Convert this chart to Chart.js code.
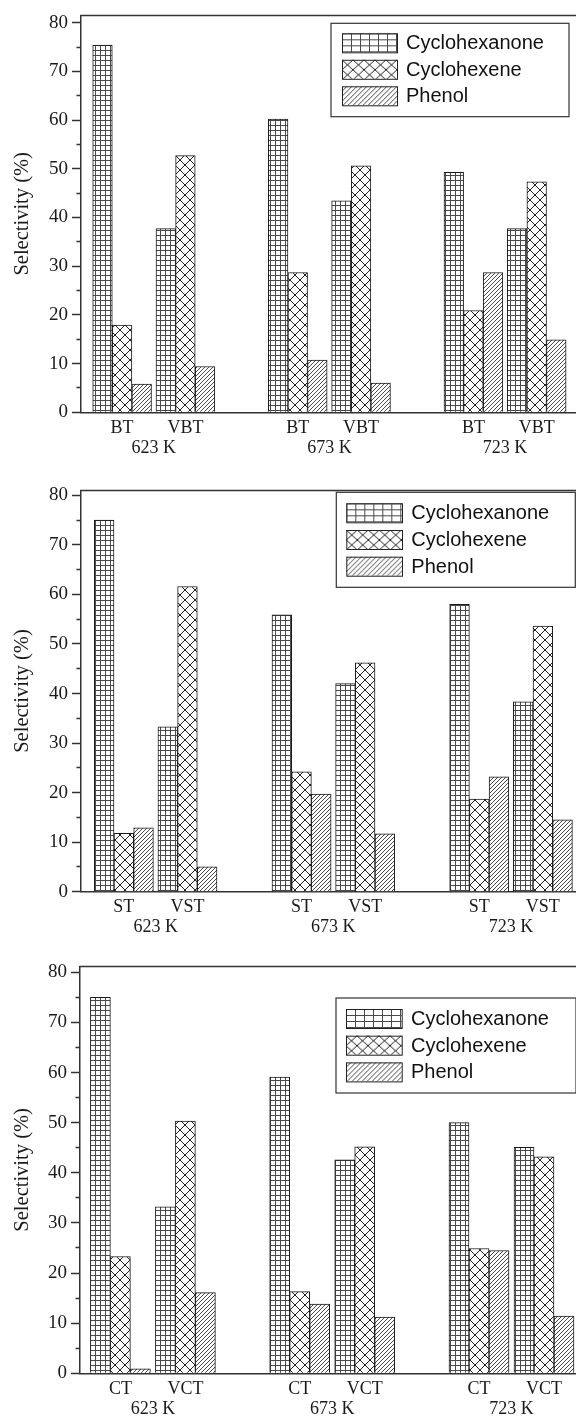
<!DOCTYPE html>
<html><head><meta charset="utf-8">
<script src="https://cdn.jsdelivr.net/npm/chart.js@4.4.1/dist/chart.umd.min.js"></script>
<style>
html,body{margin:0;padding:0;background:#fff;width:576px;height:1418px;overflow:hidden}
.p{position:absolute;left:0;width:576px}
canvas{display:block}
</style></head><body>
<div class="p" style="top:0"><canvas id="c1" width="576" height="475"></canvas></div>
<div class="p" style="top:475px"><canvas id="c2" width="576" height="475"></canvas></div>
<div class="p" style="top:950px"><canvas id="c3" width="576" height="468"></canvas></div>
<script>
// ---------- data ----------
const temperatures = ['623 K', '673 K', '723 K'];
const seriesNames = ['Cyclohexanone', 'Cyclohexene', 'Phenol'];
const yTicks = [0, 10, 20, 30, 40, 50, 60, 70, 80];
const yMinorTicks = [5, 15, 25, 35, 45, 55, 65, 75];

// order: [cat1@623, cat2@623, cat1@673, cat2@673, cat1@723, cat2@723]
const catalystsTop = ['BT', 'VBT'];
const cyclohexanoneTop = [75.4, 37.7, 60.2, 43.4, 49.3, 37.7];
const cyclohexeneTop   = [17.9, 52.7, 28.7, 50.6, 20.9, 47.3];
const phenolTop        = [5.8, 9.4, 10.7, 6.0, 28.7, 14.9];

const catalystsMid = ['ST', 'VST'];
const cyclohexanoneMid = [75.0, 33.3, 55.9, 42.0, 58.0, 38.3];
const cyclohexeneMid   = [11.8, 61.6, 24.2, 46.2, 18.7, 53.6];
const phenolMid        = [12.9, 5.0, 19.7, 11.7, 23.2, 14.5];

const catalystsBot = ['CT', 'VCT'];
const cyclohexanoneBot = [75.0, 33.2, 59.1, 42.6, 50.0, 45.1];
const cyclohexeneBot   = [23.3, 50.3, 16.3, 45.2, 24.9, 43.2];
const phenolBot        = [0.9, 16.1, 13.8, 11.2, 24.5, 11.4];

// ---------- patterns ----------
function tile(w, h, draw) {
  const c = document.createElement('canvas');
  c.width = w; c.height = h;
  const g = c.getContext('2d');
  g.fillStyle = '#fff'; g.fillRect(0, 0, w, h);
  draw(g, w, h);
  return c;
}
function gridTile(w, h) {
  return tile(w, h, (g) => {
    g.strokeStyle = '#4a4a4a'; g.lineWidth = 1;
    g.beginPath(); g.moveTo(0.5, 0); g.lineTo(0.5, h); g.moveTo(0, 0.5); g.lineTo(w, 0.5); g.stroke();
  });
}
function crossTile(w, h) {
  return tile(w, h, (g) => {
    g.strokeStyle = '#222'; g.lineWidth = 1;
    g.beginPath();
    g.moveTo(-1, -1 * h / w); g.lineTo(w + 1, h + h / w);
    g.moveTo(w + 1, -1 * h / w); g.lineTo(-1, h + h / w);
    g.stroke();
  });
}
function hatchTile(s) {
  return tile(s, s, (g) => {
    g.strokeStyle = '#333'; g.lineWidth = 0.9;
    g.beginPath();
    g.moveTo(-1, s + 1); g.lineTo(s + 1, -1);
    g.moveTo(-1, 1); g.lineTo(1, -1);
    g.moveTo(s - 1, s + 1); g.lineTo(s + 1, s - 1);
    g.stroke();
  });
}
const pctx = document.createElement('canvas').getContext('2d');
const barPatterns = [
  pctx.createPattern(gridTile(5, 5), 'repeat'),
  pctx.createPattern(crossTile(10, 10), 'repeat'),
  pctx.createPattern(hatchTile(4), 'repeat')
];
const legendTiles = [gridTile(9, 6), crossTile(11, 10), hatchTile(5)];

// ---------- plugins ----------
const frameTop = {
  id: 'frameTop',
  afterDraw(chart) {
    const {ctx, chartArea} = chart;
    ctx.save();
    ctx.strokeStyle = '#333'; ctx.lineWidth = 1.5;
    ctx.beginPath();
    ctx.moveTo(chartArea.left - 0.75, chartArea.top); ctx.lineTo(chartArea.right, chartArea.top);
    ctx.stroke();
    ctx.restore();
  }
};
const boxLegend = {
  id: 'boxLegend',
  afterDraw(chart, args, o) {
    const ctx = chart.ctx;
    ctx.save();
    ctx.fillStyle = '#fff';
    ctx.fillRect(o.x, o.y, o.w, o.h);
    ctx.strokeStyle = '#333'; ctx.lineWidth = 1.2;
    ctx.strokeRect(o.x, o.y, o.w, o.h);
    chart.data.datasets.forEach((ds, i) => {
      const sy = o.rowTop + i * o.pitch;
      const pat = ctx.createPattern(legendTiles[i], 'repeat');
      pat.setTransform(new DOMMatrix([1, 0, 0, 1, o.sx, sy]));
      ctx.fillStyle = pat;
      ctx.fillRect(o.sx, sy, o.sw, o.sh);
      ctx.strokeStyle = '#222'; ctx.lineWidth = 1;
      ctx.strokeRect(o.sx + 0.5, sy + 0.5, o.sw, o.sh);
      ctx.fillStyle = '#111';
      ctx.font = '20px "Liberation Sans", Arial, sans-serif';
      ctx.textBaseline = 'middle'; ctx.textAlign = 'left';
      ctx.fillText(ds.label, o.tx, sy + o.sh / 2 + 1);
    });
    ctx.restore();
  }
};

const serif = '"Liberation Serif", "Times New Roman", serif';
const textColor = '#1a1a1a';
const axisColor = '#333';

function makeChart(id, catalysts, values, L) {
  // bar-group x values in units of temperature index
  const xs = [], xLabels = [];
  temperatures.forEach((t, ti) => catalysts.forEach((c, ci) => {
    xs.push(ti + (ci === 0 ? -L.off : L.off));
    xLabels.push(c);
  }));
  const datasets = seriesNames.map((name, si) => ({
    label: name,
    data: values[si].map((v, i) => ({x: xs[i], y: v})),
    backgroundColor: barPatterns[si],
    borderColor: '#1a1a1a',
    borderWidth: 1,
    barThickness: L.barW,
    xAxisID: 'x', yAxisID: 'y'
  }));
  const allY = yTicks.concat(yMinorTicks).sort((a, b) => a - b);
  return new Chart(document.getElementById(id), {
    type: 'bar',
    data: {datasets},
    plugins: [frameTop, boxLegend],
    options: {
      responsive: false, animation: false, devicePixelRatio: 1,
      layout: {padding: {top: L.top, bottom: L.bottom, left: 0, right: 0}},
      plugins: {legend: {display: false}, tooltip: {enabled: false}, boxLegend: L.legend},
      scales: {
        x: {
          type: 'linear', position: 'bottom', weight: 0, min: L.xmin, max: L.xmax, offset: false,
          grid: {display: false, drawTicks: false},
          border: {display: true, color: axisColor, width: 1.5},
          afterBuildTicks: (s) => { s.ticks = xs.map((v) => ({value: v})); },
          ticks: {autoSkip: false, maxRotation: 0, minRotation: 0, padding: 6.7,
                  font: {family: serif, size: 18, lineHeight: 1}, color: textColor,
                  callback: (v, i) => xLabels[i]},
          afterFit: (s) => { s.height = 24; }
        },
        x2: {
          type: 'linear', position: 'bottom', weight: 1, min: L.xmin, max: L.xmax, offset: false,
          grid: {display: false, drawTicks: false},
          border: {display: false},
          afterBuildTicks: (s) => { s.ticks = temperatures.map((t, i) => ({value: i})); },
          ticks: {autoSkip: false, maxRotation: 0, minRotation: 0, padding: 2.7,
                  font: {family: serif, size: 18, lineHeight: 1}, color: textColor,
                  callback: (v, i) => temperatures[i]},
          afterFit: (s) => { s.height = 20; }
        },
        y: {
          type: 'linear', position: 'left', min: 0, max: L.ymax,
          grid: {drawOnChartArea: false, drawTicks: true, tickLength: 9, tickColor: axisColor, tickWidth: 1.5,
                 tickBorderDash: (c) => (c.tick && yMinorTicks.indexOf(c.tick.value) >= 0) ? [0, 4.5, 4.5, 100] : []},
          border: {display: true, color: axisColor, width: 1.5},
          afterBuildTicks: (s) => { s.ticks = allY.map((v) => ({value: v})); },
          ticks: {autoSkip: false, padding: 4, font: {family: serif, size: 19}, color: textColor,
                  callback: (v) => yTicks.indexOf(v) >= 0 ? String(v) : ''},
          title: {display: true, text: 'Selectivity (%)', font: {family: serif, size: 20.5}, color: textColor,
                  padding: {top: 10, bottom: 0}},
          afterFit: (s) => { s.width = L.left; }
        }
      }
    }
  });
}

makeChart('c1', catalystsTop, [cyclohexanoneTop, cyclohexeneTop, phenolTop], {
  top: 12.7, bottom: 18.7, left: 81, ymax: 81.5,
  xmin: -0.4142, xmax: 2.4039, off: 0.1802, barW: 19.6,
  legend: {x: 331, y: 23.3, w: 238, h: 93.4, sx: 342, rowTop: 33.3, pitch: 26.5, sw: 55, sh: 19, tx: 406}
});
makeChart('c2', catalystsMid, [cyclohexanoneMid, cyclohexeneMid, phenolMid], {
  top: 10, bottom: 14.3, left: 81, ymax: 81.0,
  xmin: -0.4201, xmax: 2.3655, off: 0.179, barW: 19.7,
  legend: {x: 336.3, y: 17.3, w: 239, h: 95, sx: 346.3, rowTop: 28.3, pitch: 26.7, sw: 55.7, sh: 19, tx: 411.3}
});
makeChart('c3', catalystsBot, [cyclohexanoneBot, cyclohexeneBot, phenolBot], {
  top: 16.5, bottom: 0.7, left: 80, ymax: 81.15,
  xmin: -0.4066, xmax: 2.3597, off: 0.1813, barW: 20,
  legend: {x: 336, y: 48, w: 240, h: 95, sx: 346, rowTop: 59, pitch: 26.7, sw: 55.7, sh: 19, tx: 411}
});
</script>
</body></html>
